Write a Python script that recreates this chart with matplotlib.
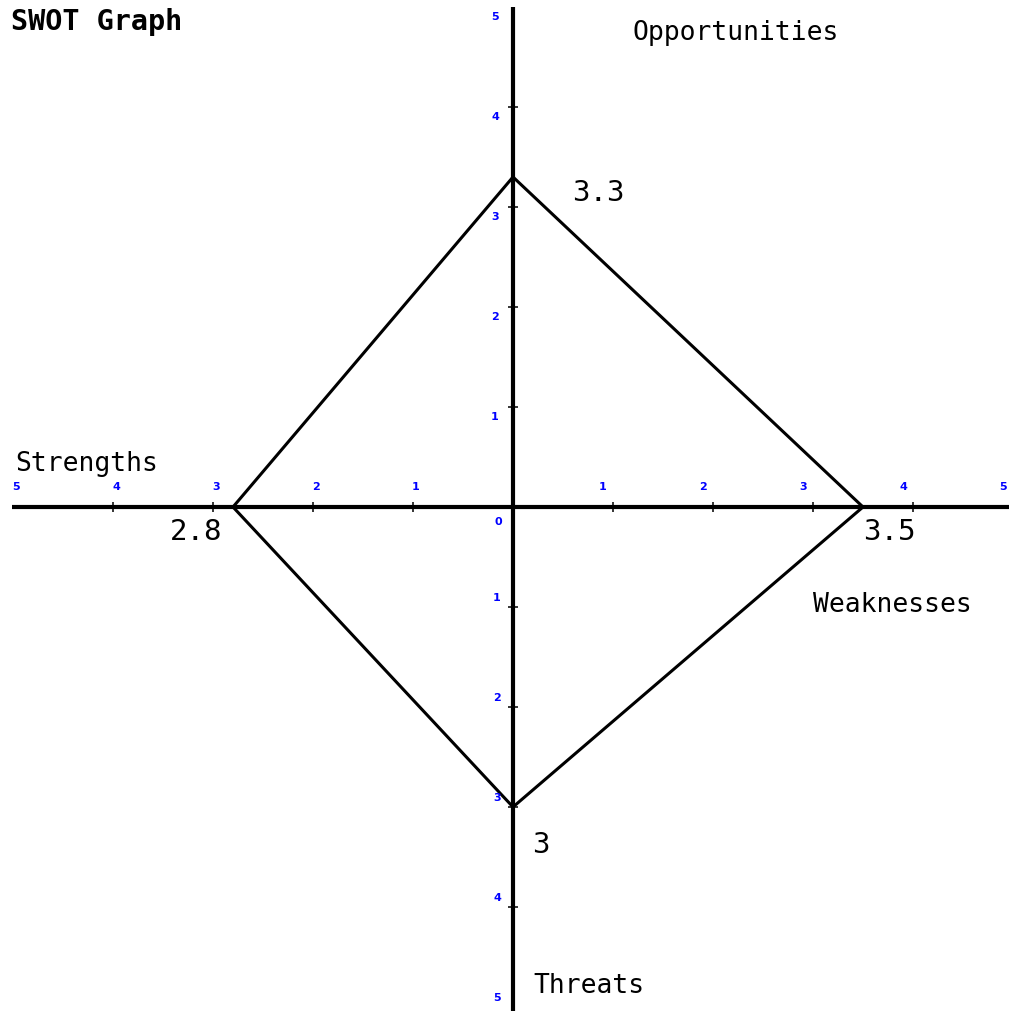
import numpy as np
from matplotlib import pyplot as plt

# SWOT scores, one per half-axis
categories = ['Opportunities', 'Weaknesses', 'Threats', 'Strengths']
values = [3.3, 3.5, 3.0, 2.8]
value_labels = ['3.3', '3.5', '3', '2.8']
tick_values = [1, 2, 3, 4, 5]

# direction of each half-axis (x, y)
directions = [(0, 1), (1, 0), (0, -1), (-1, 0)]

fig = plt.figure(figsize=(10.09, 10.12), dpi=100)
ax = fig.add_axes([0, 0, 1, 1])
ax.set_xlim(-5.13, 4.96)
ax.set_ylim(-5.04, 5.08)
ax.axis('off')

mono = 'DejaVu Sans Mono'

# main axes
ax.plot([-5.01, 5.0], [0, 0], color='black', lw=3.0, solid_capstyle='butt')
ax.plot([0, 0], [5.0, -5.1], color='black', lw=3.0, solid_capstyle='butt')

# small ticks on the axes
ticks = np.array(tick_values[:-1])
ax.plot(ticks, np.zeros_like(ticks), ls='none', marker='|', ms=7, mew=1.1, color='black')
ax.plot(-ticks, np.zeros_like(ticks), ls='none', marker='|', ms=7, mew=1.1, color='black')
ax.plot(np.zeros_like(ticks), ticks, ls='none', marker='_', ms=7, mew=1.1, color='black')
ax.plot(np.zeros_like(ticks), -ticks, ls='none', marker='_', ms=7, mew=1.1, color='black')

# blue tick labels
tk = dict(color='#0000ff', fontsize=8, fontweight='bold', ha='center', va='center')
for v in tick_values:
    ax.text(v - 0.1, 0.21, str(v), **tk)
    ax.text(-v + 0.03, 0.21, str(v), **tk)
    ax.text(-0.18, v - 0.09, str(v), **tk)
    ax.text(-0.16, -v + 0.1, str(v), **tk)
ax.text(-0.15, -0.14, '0', **tk)

# the SWOT polygon
px = [d[0] * v for d, v in zip(directions, values)]
py = [d[1] * v for d, v in zip(directions, values)]
ax.plot(px + px[:1], py + py[:1], color='black', lw=2.2, solid_joinstyle='miter')

# value labels next to each vertex
val_pos = [(0.59, 3.15), (3.5, -0.24), (0.19, -3.37), (-3.43, -0.24)]
for (x, y), lab in zip(val_pos, value_labels):
    ax.text(x, y, lab, fontsize=21, family=mono, ha='left', va='center')

# category names
cat_pos = [(1.2, 4.75), (3.0, -0.97), (0.2, -4.78), (-4.98, 0.44)]
for (x, y), cat in zip(cat_pos, categories):
    ax.text(x, y, cat, fontsize=19, family=mono, ha='left', va='center')

ax.text(-5.02, 4.86, 'SWOT Graph', fontsize=20.5, family=mono, fontweight='bold',
        ha='left', va='center')

plt.savefig('out.png', dpi=100)
